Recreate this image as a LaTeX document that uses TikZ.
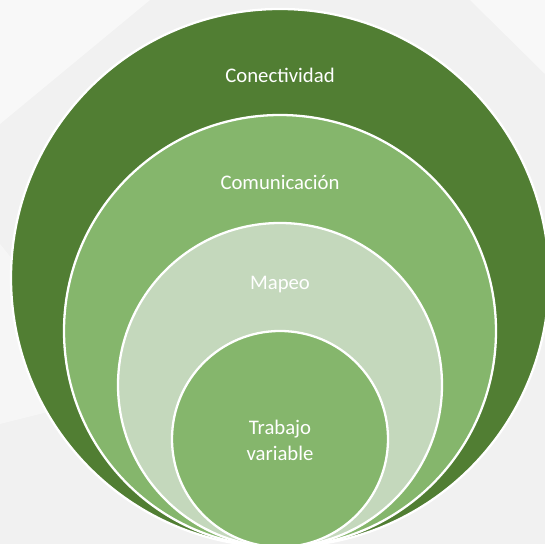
\documentclass[tikz,border=0pt]{standalone}
\usepackage{fontspec}
\setmainfont{Carlito}
\usepackage{xcolor}
\usepackage{tikz}
\usetikzlibrary{positioning}

\definecolor{darkleaf}{HTML}{517E33}
\definecolor{midleaf}{HTML}{85B66C}
\definecolor{paleleaf}{HTML}{C4D8BC}
\definecolor{slidebg}{HTML}{F1F1F1}

\tikzset{
  ring/.style={draw=white, line width=1.3pt},
  lbl/.style={text=white, font=\fontsize{11.8}{14.7}\selectfont, align=center}
}

\begin{document}
\begin{tikzpicture}[x=0.02cm, y=0.02cm]
    \useasboundingbox (0,0) rectangle (545,544);
    \clip (0,0) rectangle (545,544);
    % slide background
    \fill [slidebg] (0,0) rectangle (545,544);
    \fill [white, opacity=0.5] (0,544) -- (150,544) -- (0,420) -- cycle;
    \fill [white, opacity=0.4] (0,300) -- (120,150) -- (0,120) -- cycle;
    \fill [white, opacity=0.5] (470,544) -- (545,544) -- (545,470) -- cycle;

    % nested circles, all touching at the bottom
    \filldraw [ring, fill=darkleaf] (280,266) circle (269);
    \filldraw [ring, fill=midleaf]  (280,213) circle (216);
    \filldraw [ring, fill=paleleaf] (280,159) circle (162);
    \filldraw [ring, fill=midleaf]  (280,105) circle (108);

    \node [lbl] (conect) at (280,469) {Conectividad};
    \node [lbl] (comun)  at (280,362) {Comunicación};
    \node [lbl] (mapeo)  at (280,259) {Mapeo};
    \node [lbl] (trabajo) at (280,104) {Trabajo\\variable};
\end{tikzpicture}
\end{document}
